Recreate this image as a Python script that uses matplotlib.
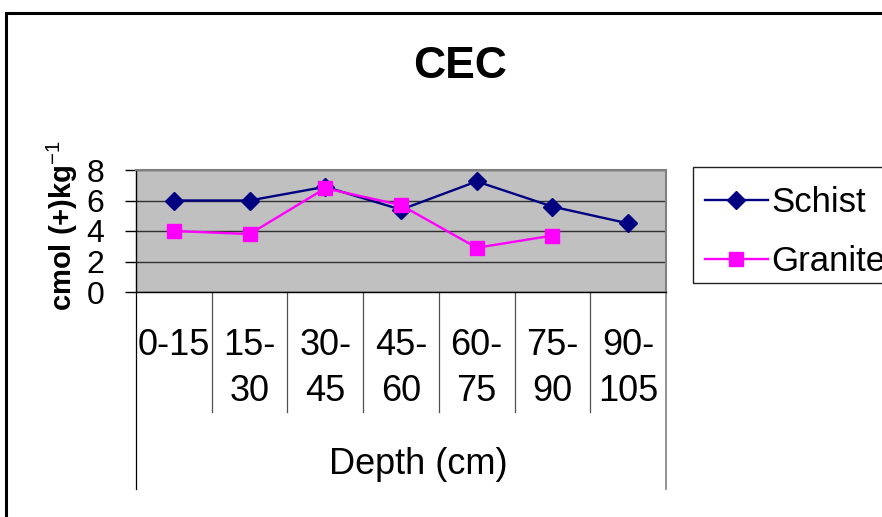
import matplotlib
matplotlib.use("Agg")
import matplotlib.pyplot as plt
import numpy as np
from matplotlib.patches import Rectangle

plt.rcParams['font.family'] = ['Liberation Sans', 'DejaVu Sans']
plt.rcParams['mathtext.fontset'] = 'custom'
plt.rcParams['mathtext.rm'] = 'Liberation Sans'
plt.rcParams['mathtext.bf'] = 'Liberation Sans:bold'

# Soil depth classes and CEC values per parent material
depth_labels = ["0-15", "15-\n30", "30-\n45", "45-\n60", "60-\n75", "75-\n90", "90-\n105"]
schist = [6.0, 6.0, 6.9, 5.4, 7.25, 5.6, 4.5]
granite = [4.0, 3.8, 6.8, 5.7, 2.9, 3.7, np.nan]
y_ticks = [0, 2, 4, 6, 8]

W, H = 882, 517
fig = plt.figure(figsize=(W / 100, H / 100), dpi=100)

# plot area in pixel coordinates
left, right, top, bottom = 136, 666, 170, 292
ax = fig.add_axes([left / W, 1 - bottom / H, (right - left) / W, (bottom - top) / H])
ax.set_facecolor('#C0C0C0')

x = np.arange(len(depth_labels))
ax.plot(x, schist, color='#000080', lw=1.7, marker='D', ms=9,
        mfc='#000080', mec='#000080', label='Schist', zorder=3, clip_on=False)
ax.plot(x, granite, color='#FF00FF', lw=1.7, marker='s', ms=10.5,
        mfc='#FF00FF', mec='#FF00FF', label='Granite', zorder=3, clip_on=False)

ax.set_xlim(-0.5, len(depth_labels) - 0.5)
ax.set_ylim(0, 8)
ax.set_yticks(y_ticks)
ax.set_yticklabels([str(v) for v in y_ticks], fontsize=23)
ax.tick_params(axis='y', direction='out', length=8, width=1, color='black', pad=15)
ax.set_axisbelow(True)
ax.yaxis.grid(True, color='#303030', lw=1)

ax.set_xticks(x)
ax.set_xticklabels(depth_labels, fontsize=26, va='top', linespacing=1.4)
ax.tick_params(axis='x', length=0, pad=26)

for s in ('top', 'right'):
    ax.spines[s].set_color('#808080')
    ax.spines[s].set_linewidth(1.5)
for s in ('left', 'bottom'):
    ax.spines[s].set_color('black')
    ax.spines[s].set_linewidth(1)

# category separators below the axis
tr = ax.get_xaxis_transform()
sep_depth = -(412 - bottom) / (bottom - top)
outer_depth = -(489 - bottom) / (bottom - top)
for b in np.arange(0.5, len(depth_labels) - 1, 1.0):
    ax.plot([b, b], [0, sep_depth], transform=tr, color='#505050', lw=0.9, clip_on=False)
ax.plot([-0.5, -0.5], [0, outer_depth], transform=tr, color='black', lw=0.9, clip_on=False)
ax.plot([len(depth_labels) - 0.5] * 2, [0, outer_depth], transform=tr,
        color='#808080', lw=1.2, clip_on=False)

fig.text(418 / W, 1 - 465 / H, "Depth (cm)", ha='center', va='center', fontsize=26)

fig.text(62 / W, 1 - 226 / H, r"cmol (+)kg$^{\mathrm{-1}}$", rotation=90,
         ha='center', va='center', fontsize=21, fontweight='bold')

fig.text(460 / W, 1 - 67 / H, "CEC", ha='center', va='center', fontsize=32, fontweight='bold')

# legend box, open to the right edge
fig.patches.append(Rectangle((693 / W, 1 - 283 / H), 0.3, (283 - 167) / H,
                             transform=fig.transFigure, fill=False,
                             edgecolor='#202020', lw=1))
leg = fig.legend(loc='upper left', bbox_to_anchor=(693 / W, 1 - 174 / H), fontsize=25,
                 frameon=False, handlelength=1.8,
                 handletextpad=0.1, labelspacing=0.75, borderpad=0.35, borderaxespad=0)

# outer chart border
fig.patches.append(Rectangle((6 / W, -0.1), 1.2, (1 - 13 / H) + 0.1, transform=fig.transFigure,
                             fill=False, edgecolor='black', lw=2.2))

fig.savefig("out.png", dpi=100)
